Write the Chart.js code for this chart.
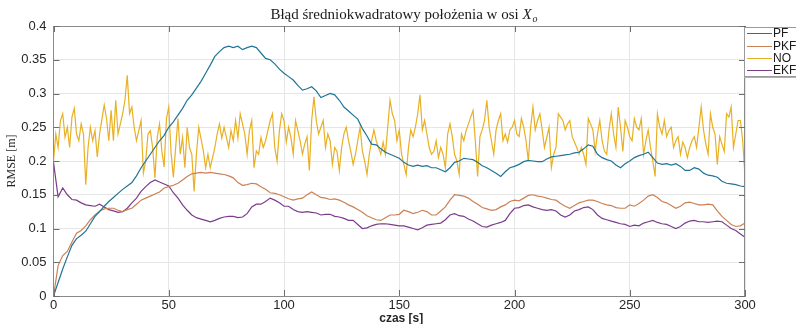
<!DOCTYPE html>
<html><head><meta charset="utf-8">
<script src="https://cdn.jsdelivr.net/npm/chart.js@4.4.1/dist/chart.umd.min.js"></script>
<style>html,body{margin:0;padding:0;background:#fff;overflow:hidden}#wrap{position:relative;width:796px;height:324px}</style>
</head><body><div id="wrap"><canvas id="c" width="796" height="324"></canvas></div>
<script>
// sample times [s]
const timeFine = Array.from({length: 301}, (_, i) => i);      // 1 s sampling (NO)
const timeCoarse = Array.from({length: 151}, (_, i) => i * 2); // 2 s sampling (PF, PKF, EKF)

const seriesNames = ['PF', 'PKF', 'NO', 'EKF'];
const xTicks = [0, 50, 100, 150, 200, 250, 300];
const yTicks = [0, 0.05, 0.1, 0.15, 0.2, 0.25, 0.3, 0.35, 0.4];
const yTickLabels = ['0', '0.05', '0.1', '0.15', '0.2', '0.25', '0.3', '0.35', '0.4'];

const PF = [
0,0.02,0.04,0.058,0.075,0.085,0.09,0.096,0.107,0.118,
0.125,0.133,0.14,0.146,0.152,0.158,0.163,0.168,0.178,0.19,
0.2,0.21,0.22,0.23,0.238,0.25,0.258,0.268,0.278,0.29,
0.298,0.308,0.318,0.33,0.342,0.355,0.362,0.368,0.37,0.368,
0.37,0.365,0.368,0.37,0.368,0.36,0.352,0.35,0.344,0.336,
0.33,0.325,0.32,0.312,0.305,0.307,0.31,0.304,0.294,0.297,
0.3,0.298,0.29,0.28,0.274,0.268,0.262,0.248,0.237,0.225,
0.224,0.218,0.213,0.21,0.207,0.204,0.198,0.194,0.192,0.194,
0.192,0.193,0.19,0.19,0.187,0.184,0.19,0.198,0.2,0.204,
0.203,0.202,0.198,0.193,0.19,0.186,0.182,0.177,0.184,0.19,
0.192,0.195,0.199,0.201,0.2,0.199,0.199,0.203,0.206,0.207,
0.208,0.209,0.21,0.212,0.213,0.218,0.224,0.222,0.21,0.205,
0.202,0.2,0.194,0.19,0.196,0.2,0.205,0.208,0.21,0.213,
0.205,0.197,0.195,0.196,0.194,0.196,0.192,0.186,0.186,0.19,
0.188,0.182,0.179,0.178,0.176,0.17,0.167,0.166,0.165,0.163,0.162];

const PKF = [
0,0.045,0.06,0.066,0.08,0.093,0.097,0.104,0.113,0.12,
0.126,0.129,0.13,0.13,0.127,0.125,0.128,0.13,0.136,0.142,
0.145,0.148,0.151,0.154,0.16,0.162,0.164,0.167,0.172,0.177,
0.181,0.182,0.183,0.182,0.183,0.182,0.181,0.18,0.178,0.175,
0.168,0.164,0.165,0.167,0.166,0.162,0.158,0.153,0.152,0.15,
0.147,0.144,0.142,0.144,0.145,0.15,0.154,0.15,0.146,0.145,
0.143,0.144,0.142,0.139,0.135,0.132,0.128,0.124,0.119,0.116,
0.113,0.112,0.116,0.12,0.12,0.121,0.127,0.125,0.122,0.124,
0.127,0.125,0.12,0.12,0.126,0.132,0.142,0.15,0.149,0.148,
0.145,0.14,0.136,0.131,0.129,0.127,0.128,0.132,0.135,0.14,
0.142,0.141,0.145,0.149,0.15,0.148,0.147,0.145,0.143,0.142,
0.137,0.133,0.13,0.134,0.138,0.14,0.142,0.142,0.14,0.137,
0.135,0.134,0.131,0.13,0.13,0.135,0.133,0.137,0.142,0.148,
0.15,0.146,0.14,0.138,0.134,0.13,0.133,0.138,0.139,0.137,
0.135,0.135,0.136,0.135,0.126,0.118,0.112,0.106,0.103,0.104,0.108];

const NO = [
0.2,0.24,0.22,0.26,0.27,0.235,0.25,0.22,0.265,0.278,
0.24,0.23,0.255,0.24,0.165,0.22,0.25,0.23,0.245,0.206,
0.24,0.262,0.283,0.263,0.23,0.275,0.23,0.29,0.24,0.255,
0.27,0.29,0.327,0.27,0.28,0.25,0.23,0.245,0.26,0.182,
0.2,0.24,0.245,0.22,0.175,0.235,0.255,0.215,0.191,0.263,
0.28,0.212,0.176,0.22,0.263,0.21,0.235,0.19,0.25,0.22,
0.21,0.155,0.21,0.25,0.233,0.215,0.19,0.21,0.19,0.205,
0.22,0.24,0.255,0.234,0.25,0.235,0.22,0.245,0.23,0.26,
0.234,0.27,0.255,0.24,0.21,0.245,0.26,0.19,0.215,0.21,
0.235,0.22,0.23,0.245,0.26,0.27,0.22,0.2,0.245,0.27,
0.26,0.228,0.25,0.235,0.21,0.26,0.245,0.23,0.21,0.225,
0.236,0.186,0.26,0.295,0.26,0.24,0.25,0.26,0.22,0.24,
0.23,0.195,0.22,0.214,0.186,0.22,0.24,0.25,0.23,0.214,
0.195,0.21,0.23,0.25,0.215,0.2,0.18,0.21,0.23,0.246,
0.23,0.22,0.21,0.228,0.21,0.25,0.29,0.27,0.26,0.23,
0.246,0.21,0.195,0.18,0.22,0.246,0.236,0.25,0.27,0.298,
0.246,0.26,0.24,0.22,0.21,0.214,0.23,0.205,0.22,0.21,
0.19,0.24,0.255,0.236,0.21,0.2,0.18,0.24,0.23,0.245,
0.255,0.265,0.275,0.23,0.177,0.236,0.246,0.26,0.29,0.25,
0.23,0.21,0.246,0.26,0.27,0.23,0.24,0.228,0.246,0.25,
0.26,0.24,0.236,0.263,0.25,0.23,0.2,0.25,0.28,0.246,
0.26,0.27,0.246,0.22,0.235,0.25,0.19,0.21,0.22,0.27,
0.265,0.26,0.246,0.255,0.26,0.236,0.228,0.22,0.21,0.22,
0.21,0.195,0.263,0.255,0.246,0.214,0.24,0.26,0.23,0.215,
0.21,0.246,0.27,0.24,0.22,0.28,0.25,0.214,0.26,0.25,
0.236,0.23,0.263,0.25,0.246,0.263,0.21,0.23,0.246,0.22,
0.2,0.177,0.27,0.25,0.24,0.26,0.236,0.245,0.25,0.22,
0.23,0.236,0.21,0.228,0.22,0.205,0.22,0.23,0.236,0.22,
0.25,0.28,0.246,0.225,0.21,0.27,0.25,0.24,0.195,0.236,
0.225,0.214,0.27,0.265,0.28,0.22,0.24,0.26,0.26,0.23,0.177];

const EKF = [
0.198,0.147,0.16,0.15,0.143,0.142,0.138,0.135,0.134,0.133,
0.136,0.132,0.128,0.126,0.124,0.125,0.13,0.138,0.145,0.155,
0.162,0.168,0.172,0.169,0.166,0.163,0.153,0.145,0.135,0.127,
0.12,0.116,0.114,0.112,0.11,0.112,0.115,0.117,0.118,0.118,
0.116,0.117,0.122,0.132,0.136,0.136,0.14,0.145,0.142,0.138,
0.133,0.133,0.128,0.125,0.124,0.125,0.124,0.123,0.12,0.121,
0.121,0.118,0.117,0.115,0.112,0.112,0.106,0.1,0.101,0.104,
0.106,0.107,0.107,0.106,0.105,0.104,0.104,0.102,0.1,0.098,
0.101,0.105,0.106,0.107,0.108,0.113,0.12,0.122,0.119,0.118,
0.114,0.111,0.107,0.103,0.102,0.105,0.107,0.109,0.112,0.122,
0.13,0.131,0.134,0.135,0.132,0.13,0.128,0.127,0.128,0.126,
0.12,0.117,0.12,0.126,0.128,0.131,0.132,0.128,0.12,0.115,
0.113,0.111,0.109,0.107,0.106,0.103,0.105,0.104,0.108,0.11,
0.112,0.109,0.107,0.106,0.103,0.1,0.103,0.108,0.111,0.112,
0.11,0.11,0.109,0.11,0.111,0.11,0.105,0.1,0.097,0.092,0.087];

const colors = {PF: '#1f7596', PKF: '#cc8155', NO: '#e8b024', EKF: '#7b3d8b'};

function pts(times, vals) { return vals.map((v, i) => ({x: times[i], y: v})); }

const PLOT = {left: 53.5, right: 745, top: 26, bottom: 296};

const decor = {
  id: 'decor',
  afterDraw(chart) {
    const ctx = chart.ctx;
    const a = chart.chartArea;
    const xs = chart.scales.x, ys = chart.scales.y;
    ctx.save();
    // box
    ctx.strokeStyle = '#8a8a8a';
    ctx.lineWidth = 1;
    ctx.beginPath();
    ctx.moveTo(a.left, a.top + 0.5); ctx.lineTo(a.right, a.top + 0.5);
    ctx.moveTo(a.right - 0.5, a.top); ctx.lineTo(a.right - 0.5, a.bottom);
    ctx.stroke();
    // inward ticks
    ctx.strokeStyle = '#6e6e6e';
    ctx.beginPath();
    xTicks.forEach(t => {
      const px = Math.round(xs.getPixelForValue(t)) + 0.5;
      ctx.moveTo(px, a.bottom); ctx.lineTo(px, a.bottom - 6);
      ctx.moveTo(px, a.top); ctx.lineTo(px, a.top + 6);
    });
    yTicks.forEach(v => {
      const py = Math.round(ys.getPixelForValue(v)) + 0.5;
      ctx.moveTo(a.left, py); ctx.lineTo(a.left + 6, py);
      ctx.moveTo(a.right, py); ctx.lineTo(a.right - 6, py);
    });
    ctx.stroke();

    // title with italic X and subscript o
    ctx.fillStyle = '#1a1a1a';
    ctx.textBaseline = 'alphabetic';
    const f1 = '15px "Liberation Serif", "Times New Roman", serif';
    const f2 = 'italic 15px "Liberation Serif", "Times New Roman", serif';
    const f3 = 'italic 10px "Liberation Serif", "Times New Roman", serif';
    const part1 = 'Błąd średniokwadratowy położenia w osi ';
    ctx.font = f1; const w1 = ctx.measureText(part1).width;
    ctx.font = f2; const w2 = ctx.measureText('X').width;
    ctx.font = f3; const w3 = ctx.measureText('o').width;
    let x0 = 404 - (w1 + w2 + w3 + 1) / 2;
    const yb = 19;
    ctx.textAlign = 'left';
    ctx.font = f1; ctx.fillText(part1, x0, yb);
    ctx.font = f2; ctx.fillText('X', x0 + w1, yb);
    ctx.font = f3; ctx.fillText('o', x0 + w1 + w2 + 1, yb + 3);

    // y axis label
    ctx.save();
    ctx.translate(15, (a.top + a.bottom) / 2);
    ctx.rotate(-Math.PI / 2);
    ctx.textAlign = 'center';
    ctx.font = '12px "Liberation Serif", "Times New Roman", serif';
    ctx.fillStyle = '#262626';
    ctx.fillText('RMSE [m]', 0, 0);
    ctx.restore();

    // x axis label
    ctx.textAlign = 'center';
    ctx.font = 'bold 12px "Liberation Sans", Arial, sans-serif';
    ctx.fillStyle = '#262626';
    ctx.fillText('czas [s]', (a.left + a.right) / 2 + 2, 322);

    // legend
    const lx = 744, ly = 27, lw = 60, lh = 49;
    ctx.fillStyle = '#ffffff';
    ctx.fillRect(lx, ly, lw, lh);
    ctx.strokeStyle = '#9a9a9a';
    ctx.lineWidth = 1;
    ctx.strokeRect(lx + 0.5, ly + 0.5, lw, lh);
    ctx.strokeStyle = '#b0b0b0';
    ctx.beginPath(); ctx.moveTo(lx, ly + lh + 1.5); ctx.lineTo(lx + lw, ly + lh + 1.5); ctx.stroke();
    const rows = [33, 46, 58, 70];
    ctx.font = '12px "Liberation Sans", Arial, sans-serif';
    ctx.textAlign = 'left';
    ctx.textBaseline = 'middle';
    seriesNames.forEach((n, i) => {
      ctx.strokeStyle = colors[n];
      ctx.beginPath();
      ctx.moveTo(lx + 3, rows[i] + 0.5); ctx.lineTo(lx + 28, rows[i] + 0.5);
      ctx.stroke();
      ctx.fillStyle = '#1a1a1a';
      ctx.fillText(n, lx + 29, rows[i] + 1);
    });
    ctx.restore();
  }
};

new Chart(document.getElementById('c'), {
  type: 'line',
  data: {
    datasets: [
      {label: 'PF', data: pts(timeCoarse, PF), borderColor: colors.PF},
      {label: 'PKF', data: pts(timeCoarse, PKF), borderColor: colors.PKF},
      {label: 'NO', data: pts(timeFine, NO), borderColor: colors.NO},
      {label: 'EKF', data: pts(timeCoarse, EKF), borderColor: colors.EKF}
    ].map(d => Object.assign(d, {borderWidth: 1.2, pointRadius: 0, tension: 0, fill: false}))
  },
  options: {
    responsive: false,
    animation: false,
    devicePixelRatio: 1,
    layout: {padding: {left: 0, right: 796 - PLOT.right, top: PLOT.top, bottom: 0}},
    plugins: {legend: {display: false}, title: {display: false}, tooltip: {enabled: false}},
    scales: {
      x: {
        type: 'linear', min: 0, max: 300,
        afterFit(s) { s.height = 324 - PLOT.bottom; },
        afterBuildTicks(s) { s.ticks = xTicks.map(v => ({value: v})); },
        ticks: {padding: 2, color: '#262626', font: {family: '"Liberation Sans", Arial, sans-serif', size: 13}, maxRotation: 0,
          callback: v => String(v)},
        grid: {color: '#e6e6e6', drawTicks: false},
        border: {color: '#8a8a8a'}
      },
      y: {
        min: 0, max: 0.4,
        afterFit(s) { s.width = PLOT.left; },
        afterBuildTicks(s) { s.ticks = yTicks.map(v => ({value: v})); },
        ticks: {padding: 7, color: '#262626', font: {family: '"Liberation Sans", Arial, sans-serif', size: 13},
          callback: (v) => yTickLabels[yTicks.findIndex(t => Math.abs(t - v) < 1e-9)]},
        grid: {color: '#e6e6e6', drawTicks: false},
        border: {color: '#8a8a8a'}
      }
    }
  },
  plugins: [decor]
});
</script></body></html>
